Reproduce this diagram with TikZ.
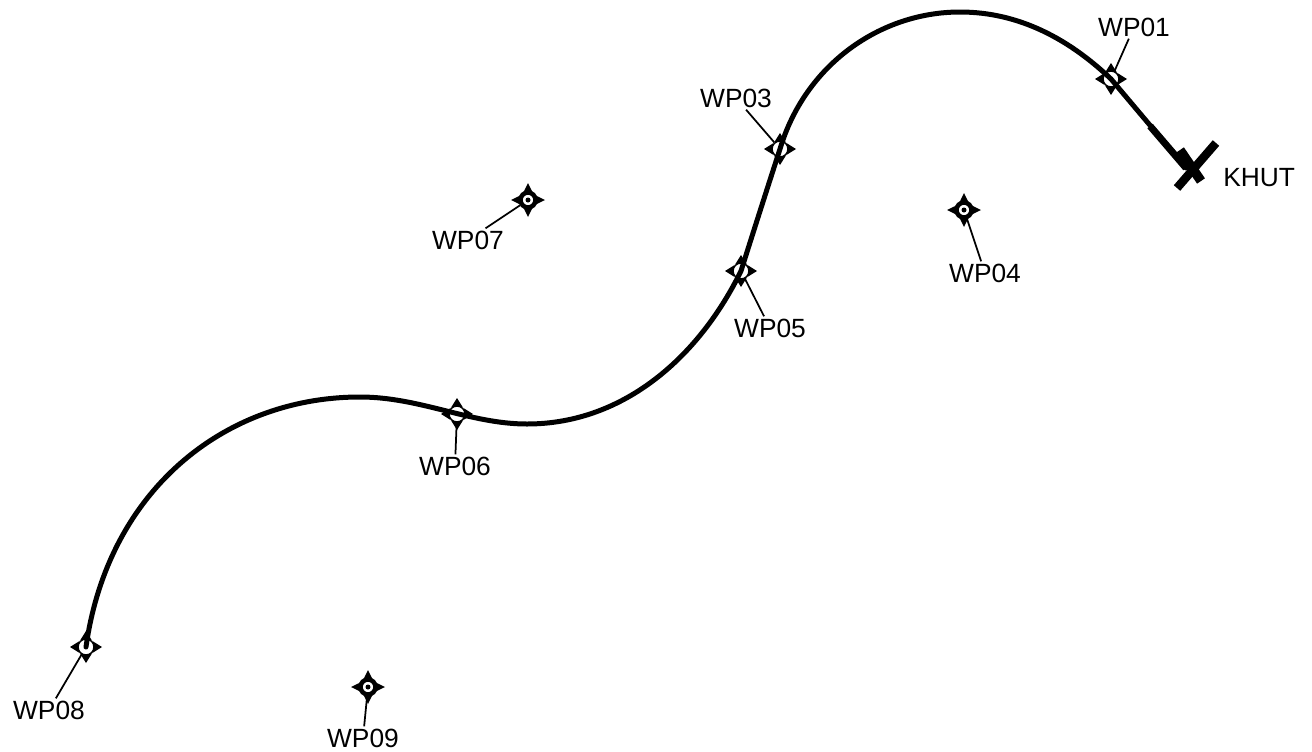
\documentclass[tikz,border=0pt]{standalone}
\usepackage{fontspec}
\setmainfont{Liberation Sans}
\tikzset{
	wpopen/.style={circle,draw=black,fill=white,line width=0.03cm,minimum size=0.32cm,inner sep=0pt},
	wpfilled/.style={circle,draw=black,fill=white,line width=0.09cm,minimum size=0.3cm,inner sep=0pt},
	wplabel/.style={font=\fontsize{15}{15}\selectfont,inner sep=0.04cm},
	leader/.style={line width=0.035cm},
	route/.style={line width=0.1cm,line cap=round}
}
\begin{document}
\begin{tikzpicture}[x=0.02cm,y=-0.02cm]
	\useasboundingbox (0,0) rectangle (1312,751);
	
	% Flown waypoints
	\foreach \name/\x/\y/\lx/\ly in {WP01/1111/79/1134/27,WP03/780/149/736/98,WP05/741/271/770/328,WP06/457/414/455/466,WP08/86/647/49/710}{
		\node[wpopen] (\name) at (\x,\y) {};
		\node[wplabel] (lb\name) at (\lx,\ly) {\name};
		\draw[leader] (lb\name) -- (\name);
		\foreach \a in {0,90,180,270}{
			\fill ([shift={(\a:16)}]\name.center) -- ([shift={(\a+38:9)}]\name.center) -- ([shift={(\a-38:9)}]\name.center) -- cycle;
		}
	}
	
	% Other waypoints
	\foreach \name/\x/\y/\lx/\ly in {WP04/964/210/985/273,WP07/528/200/468/240,WP09/368/687/363/738}{
		\node[wpfilled] (\name) at (\x,\y) {};
		\node[wplabel] (lb\name) at (\lx,\ly) {\name};
		\draw[leader] (lb\name) -- (\name);
		\fill (\name) circle (0.05cm);
		\foreach \a in {0,90,180,270}{
			\fill ([shift={(\a:17)}]\name.center) -- ([shift={(\a+42:8)}]\name.center) -- ([shift={(\a-42:8)}]\name.center) -- cycle;
		}
	}
	
	% Airport
	\coordinate (KHUT) at (1186,168);
	\coordinate (KHUTin) at (1150,126);
	\node[wplabel,anchor=west] (lbKHUT) at (1221,178) {KHUT};
	\draw[line width=0.17cm] (1177,188) -- (1216,143);
	\draw[line width=0.19cm] (1180,150) -- (1201,181);
	
	% Route
	\draw[route] (WP08.center) .. controls (108,490) and (225,397) .. (360,397)
		.. controls (420,397) and (470,424) .. (527,424)
		.. controls (625,424) and (700,355) .. (WP05.center)
		.. controls (752,236) and (768,186) .. (WP03.center)
		.. controls (805,65) and (880,12) .. (960,12)
		.. controls (1020,12) and (1070,40) .. (WP01.center)
		-- (KHUT);
	\draw[line width=0.14cm] (KHUTin) -- (KHUT);
\end{tikzpicture}
\end{document}
